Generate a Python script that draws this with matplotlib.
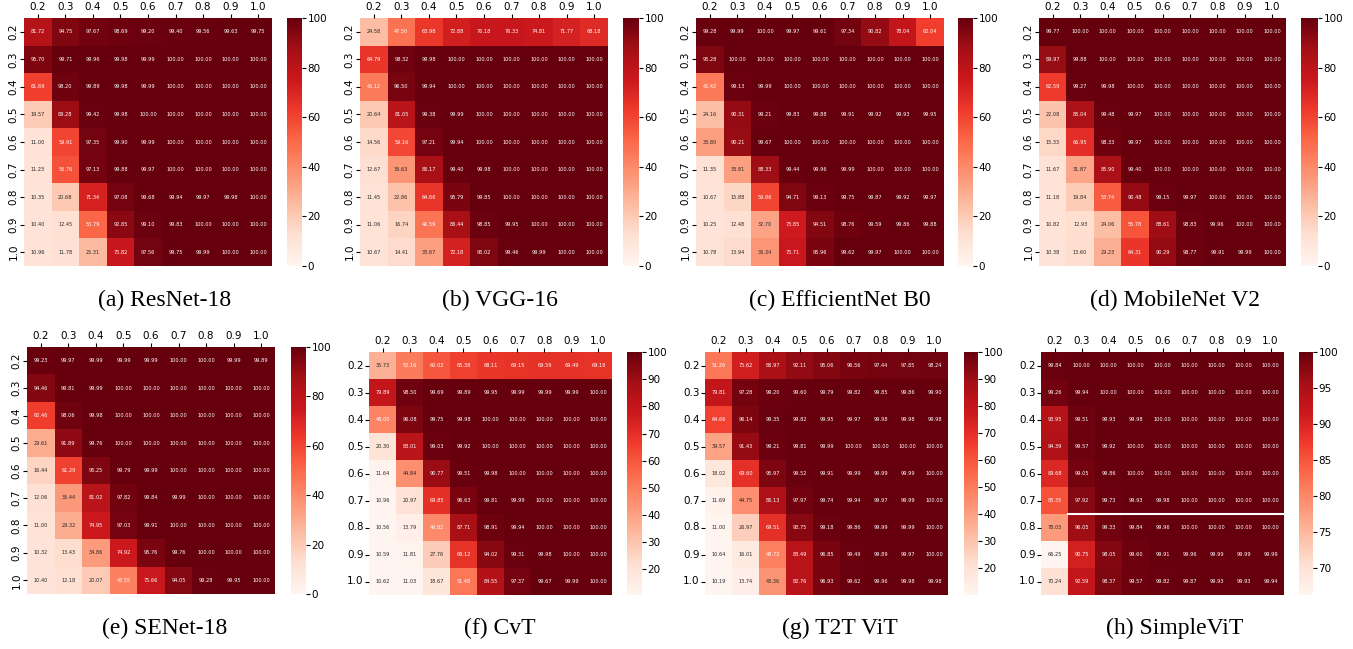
import numpy as np
import matplotlib
matplotlib.use("Agg")
import matplotlib.pyplot as plt
import seaborn as sns

## Accuracy grids (rows: train ratio, cols: test ratio)

ticks = ["0.2", "0.3", "0.4", "0.5", "0.6", "0.7", "0.8", "0.9", "1.0"]

resnet18 = [
    [81.72, 94.75, 97.67, 98.69, 99.20, 99.40, 99.56, 99.63, 99.75],
    [95.70, 99.71, 99.96, 99.98, 99.99, 100.00, 100.00, 100.00, 100.00],
    [61.69, 98.20, 99.89, 99.98, 99.99, 100.00, 100.00, 100.00, 100.00],
    [19.57, 89.28, 99.42, 99.98, 100.00, 100.00, 100.00, 100.00, 100.00],
    [11.00, 59.91, 97.35, 99.90, 99.99, 100.00, 100.00, 100.00, 100.00],
    [11.23, 56.76, 97.13, 99.88, 99.97, 100.00, 100.00, 100.00, 100.00],
    [10.35, 20.68, 71.34, 97.08, 99.68, 99.94, 99.97, 99.98, 100.00],
    [10.40, 12.45, 50.79, 92.85, 99.10, 99.83, 100.00, 100.00, 100.00],
    [10.96, 11.78, 25.31, 75.82, 97.56, 99.75, 99.99, 100.00, 100.00],
]

vgg16 = [
    [24.58, 47.50, 63.98, 72.88, 76.18, 76.33, 74.81, 71.77, 68.18],
    [64.79, 98.32, 99.98, 100.00, 100.00, 100.00, 100.00, 100.00, 100.00],
    [45.12, 96.50, 99.94, 100.00, 100.00, 100.00, 100.00, 100.00, 100.00],
    [20.64, 81.05, 99.38, 99.99, 100.00, 100.00, 100.00, 100.00, 100.00],
    [14.56, 59.16, 97.21, 99.94, 100.00, 100.00, 100.00, 100.00, 100.00],
    [12.67, 36.63, 86.17, 99.40, 99.98, 100.00, 100.00, 100.00, 100.00],
    [11.45, 22.86, 64.66, 95.79, 99.85, 100.00, 100.00, 100.00, 100.00],
    [11.06, 16.74, 46.59, 86.44, 98.85, 99.95, 100.00, 100.00, 100.00],
    [10.67, 14.41, 33.67, 72.18, 95.02, 99.46, 99.99, 100.00, 100.00],
]

effnet_b0 = [
    [99.28, 99.99, 100.00, 99.97, 99.61, 97.34, 90.82, 78.04, 62.04],
    [95.28, 100.00, 100.00, 100.00, 100.00, 100.00, 100.00, 100.00, 100.00],
    [45.42, 99.13, 99.99, 100.00, 100.00, 100.00, 100.00, 100.00, 100.00],
    [24.16, 90.31, 99.21, 99.83, 99.88, 99.91, 99.92, 99.93, 99.95],
    [33.80, 90.21, 99.67, 100.00, 100.00, 100.00, 100.00, 100.00, 100.00],
    [11.35, 33.81, 88.33, 99.44, 99.96, 99.99, 100.00, 100.00, 100.00],
    [10.67, 15.88, 59.86, 94.71, 99.13, 99.75, 99.87, 99.92, 99.97],
    [10.25, 12.48, 32.70, 73.85, 94.51, 98.76, 99.59, 99.86, 99.88],
    [10.78, 13.94, 36.34, 75.71, 95.96, 99.62, 99.97, 100.00, 100.00],
]

mobilenet_v2 = [
    [99.77, 100.00, 100.00, 100.00, 100.00, 100.00, 100.00, 100.00, 100.00],
    [89.97, 99.88, 100.00, 100.00, 100.00, 100.00, 100.00, 100.00, 100.00],
    [62.59, 99.27, 99.98, 100.00, 100.00, 100.00, 100.00, 100.00, 100.00],
    [22.08, 85.04, 99.48, 99.97, 100.00, 100.00, 100.00, 100.00, 100.00],
    [15.33, 66.95, 98.33, 99.97, 100.00, 100.00, 100.00, 100.00, 100.00],
    [11.67, 31.87, 85.90, 99.40, 100.00, 100.00, 100.00, 100.00, 100.00],
    [11.18, 19.84, 53.74, 90.48, 99.15, 99.97, 100.00, 100.00, 100.00],
    [10.82, 12.93, 24.06, 55.78, 88.61, 98.83, 99.96, 100.00, 100.00],
    [10.38, 13.60, 29.23, 64.31, 90.29, 98.77, 99.91, 99.99, 100.00],
]

senet18 = [
    [99.23, 99.97, 99.99, 99.99, 99.99, 100.00, 100.00, 99.99, 99.89],
    [94.46, 99.81, 99.99, 100.00, 100.00, 100.00, 100.00, 100.00, 100.00],
    [62.46, 98.06, 99.98, 100.00, 100.00, 100.00, 100.00, 100.00, 100.00],
    [29.61, 91.89, 99.76, 100.00, 100.00, 100.00, 100.00, 100.00, 100.00],
    [16.44, 61.29, 95.25, 99.79, 99.99, 100.00, 100.00, 100.00, 100.00],
    [12.06, 35.44, 81.02, 97.82, 99.84, 99.99, 100.00, 100.00, 100.00],
    [11.00, 29.32, 74.95, 97.03, 99.91, 100.00, 100.00, 100.00, 100.00],
    [10.32, 13.43, 34.86, 74.92, 95.76, 99.76, 100.00, 100.00, 100.00],
    [10.40, 12.18, 20.07, 43.55, 75.66, 94.05, 99.28, 99.95, 100.00],
]

cvt = [
    [35.73, 50.16, 60.02, 65.38, 68.11, 69.15, 69.59, 69.49, 69.18],
    [79.89, 98.50, 99.69, 99.89, 99.95, 99.99, 99.99, 99.99, 100.00],
    [48.00, 96.08, 99.75, 99.98, 100.00, 100.00, 100.00, 100.00, 100.00],
    [20.30, 83.01, 99.03, 99.92, 100.00, 100.00, 100.00, 100.00, 100.00],
    [11.64, 44.84, 90.77, 99.51, 99.98, 100.00, 100.00, 100.00, 100.00],
    [10.96, 20.97, 69.85, 96.63, 99.81, 99.99, 100.00, 100.00, 100.00],
    [10.56, 13.79, 46.82, 87.71, 98.91, 99.94, 100.00, 100.00, 100.00],
    [10.59, 11.81, 27.76, 69.12, 94.02, 99.31, 99.98, 100.00, 100.00],
    [10.62, 11.03, 18.67, 51.48, 84.55, 97.37, 99.67, 99.99, 100.00],
]

t2t_vit = [
    [51.26, 75.62, 86.97, 92.11, 95.06, 96.56, 97.44, 97.85, 98.24],
    [79.81, 97.28, 99.20, 99.60, 99.79, 99.82, 99.85, 99.86, 99.90],
    [64.66, 96.14, 99.35, 99.82, 99.95, 99.97, 99.98, 99.98, 99.98],
    [39.57, 91.43, 99.21, 99.81, 99.99, 100.00, 100.00, 100.00, 100.00],
    [18.02, 69.60, 95.97, 99.52, 99.91, 99.99, 99.99, 99.99, 100.00],
    [11.69, 44.75, 86.13, 97.97, 99.74, 99.94, 99.97, 99.99, 100.00],
    [11.00, 26.97, 69.51, 93.75, 99.18, 99.86, 99.99, 99.99, 100.00],
    [10.64, 16.01, 48.73, 83.49, 96.85, 99.49, 99.89, 99.97, 100.00],
    [10.19, 13.74, 43.36, 82.76, 96.93, 99.62, 99.96, 99.98, 99.98],
]

simple_vit = [
    [99.84, 100.00, 100.00, 100.00, 100.00, 100.00, 100.00, 100.00, 100.00],
    [99.26, 99.94, 100.00, 100.00, 100.00, 100.00, 100.00, 100.00, 100.00],
    [93.95, 99.51, 99.93, 99.98, 100.00, 100.00, 100.00, 100.00, 100.00],
    [94.39, 99.57, 99.92, 100.00, 100.00, 100.00, 100.00, 100.00, 100.00],
    [89.68, 99.05, 99.86, 100.00, 100.00, 100.00, 100.00, 100.00, 100.00],
    [85.35, 97.92, 99.73, 99.93, 99.98, 100.00, 100.00, 100.00, 100.00],
    [78.05, 96.05, 99.33, 99.84, 99.96, 100.00, 100.00, 100.00, 100.00],
    [66.25, 90.75, 98.05, 99.60, 99.91, 99.96, 99.99, 99.99, 99.99],
    [70.24, 92.59, 98.37, 99.57, 99.82, 99.87, 99.93, 99.93, 99.94],
]

captions = ["(a) ResNet-18", "(b) VGG-16", "(c) EfficientNet B0", "(d) MobileNet V2",
            "(e) SENet-18", "(f) CvT", "(g) T2T ViT", "(h) SimpleViT"]
grids = [resnet18, vgg16, effnet_b0, mobilenet_v2, senet18, cvt, t2t_vit, simple_vit]

# top row + SENet use a fixed 0-100 scale, the transformers use their own range
fixed_scale = [True, True, True, True, True, False, False, False]
rotated_yticks = [True, True, True, True, True, False, False, False]

## Layout in pixels (left, right, top, bottom) for cells and colorbar

W, H = 1353, 649
heat_boxes = [
    (24, 272, 18, 266), (360, 608, 18, 266), (696, 944, 18, 266), (1039, 1286, 18, 266),
    (27, 275, 347, 594), (369, 612, 352, 595), (705, 948, 352, 595), (1041, 1284, 352, 595),
]
cbar_x = [(287, 302), (623, 639), (958, 973), (1301, 1318),
          (291, 306), (627, 642), (964, 978), (1299, 1313)]
caption_pos = [(165, 300), (500, 300), (840, 300), (1175, 300),
               (165, 628), (500, 628), (840, 628), (1175, 628)]


def px_box(l, r, t, b):
    return [l / W, 1 - b / H, (r - l) / W, (b - t) / H]


fig = plt.figure(figsize=(W / 100, H / 100), dpi=100)

for i, data in enumerate(grids):
    l, r, t, b = heat_boxes[i]
    ax = fig.add_axes(px_box(l, r, t, b))
    cx0, cx1 = cbar_x[i]
    cax = fig.add_axes(px_box(cx0, cx1, t, b))
    kw = dict(vmin=0, vmax=100) if fixed_scale[i] else {}
    sns.heatmap(np.array(data), ax=ax, cbar_ax=cax, cmap="Reds", annot=True, fmt=".2f",
                annot_kws={"size": 3.6}, xticklabels=ticks, yticklabels=ticks, **kw)
    ax.xaxis.tick_top()
    ax.tick_params(axis="x", labelsize=7.5, length=3, pad=1)
    ax.tick_params(axis="y", labelsize=7.5, length=3, pad=1)
    if rotated_yticks[i]:
        plt.setp(ax.get_yticklabels(), rotation=90, va="center")
    else:
        plt.setp(ax.get_yticklabels(), rotation=0)
    plt.setp(ax.get_xticklabels(), rotation=0)
    cax.tick_params(labelsize=7.5, length=3, pad=1)
    fig.text(caption_pos[i][0] / W, 1 - caption_pos[i][1] / H, captions[i],
             family="Liberation Serif", fontsize=17, ha="center", va="center")

# gap line drawn across the SimpleViT grid
ax.plot([1, 9], [6, 6], color="white", lw=1.5)

fig.savefig("out.png", dpi=100)
